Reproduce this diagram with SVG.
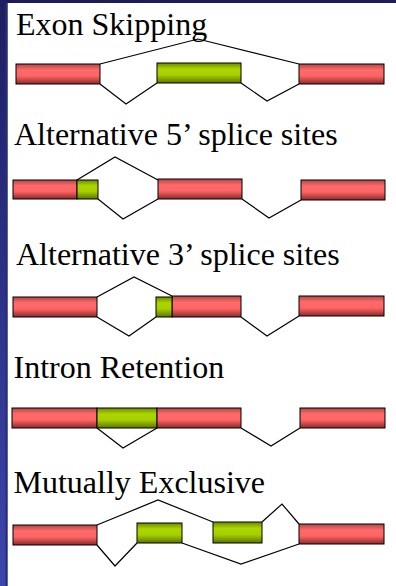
<svg xmlns="http://www.w3.org/2000/svg" width="396" height="586" viewBox="0 0 396 586">
<defs>
<linearGradient id="gRed" x1="0" y1="0" x2="0" y2="1">
<stop offset="0" stop-color="#b04848"/>
<stop offset="0.3" stop-color="#ff6a6a"/>
<stop offset="0.6" stop-color="#ff6464"/>
<stop offset="1" stop-color="#8a2a2a"/>
</linearGradient>
<linearGradient id="gGreen" x1="0" y1="0" x2="0" y2="1">
<stop offset="0" stop-color="#6e8800"/>
<stop offset="0.3" stop-color="#acd600"/>
<stop offset="0.6" stop-color="#a6cf00"/>
<stop offset="1" stop-color="#5e7400"/>
</linearGradient>
<linearGradient id="gSide" x1="0" y1="0" x2="0" y2="1">
<stop offset="0" stop-color="#1e1e62"/>
<stop offset="1" stop-color="#3c46ac"/>
</linearGradient>
<style>
.t{font-family:"Liberation Serif","Times New Roman",serif;font-size:32px;fill:#000}
.r{fill:url(#gRed);stroke:#000;stroke-width:1}
.g{fill:url(#gGreen);stroke:#000;stroke-width:1}
.c{fill:none;stroke:#000;stroke-width:1.2;stroke-linejoin:miter}
</style>
</defs>
<rect x="0" y="0" width="396" height="586" fill="#fff"/>
<rect x="0" y="0" width="396" height="3" fill="#1c1c58"/>
<rect x="0" y="0" width="7.5" height="586" fill="url(#gSide)"/>
<rect x="5.5" y="3" width="2" height="583" fill="#262e78"/>

<g id="connectors">
<polyline class="c" points="100,64 198,39 299,64"/>
<polyline class="c" points="100,84 126,104 157,83"/>
<polyline class="c" points="241,83 267,101 299,84"/>

<polyline class="c" points="77,180 115,157 158,180"/>
<polyline class="c" points="98,199 123,219 158,199"/>
<polyline class="c" points="242,199 269,218 301,200"/>

<polyline class="c" points="97,297 134,277 172,296"/>
<polyline class="c" points="97,317 129,336 156,317"/>
<polyline class="c" points="241,317 267,336 299,316"/>

<polyline class="c" points="97,428 123,448 157,428"/>
<polyline class="c" points="241,428 271,446 300,428"/>

<polyline class="c" points="97,525 158,500 213,522"/>
<polyline class="c" points="97,545 115,566 137,543"/>
<polyline class="c" points="182,543 241,564 299,544"/>
<polyline class="c" points="262,522 282,504 299,524"/>
</g>

<g id="exon-skipping">
<text class="t" x="16" y="35">Exon Skipping</text>
<rect class="r" x="16" y="64" width="84" height="20"/>
<rect class="g" x="157" y="63" width="84" height="20"/>
<rect class="r" x="299" y="64" width="85" height="20"/>
</g>

<g id="alt5">
<text class="t" x="14" y="145">Alternative 5’ splice sites</text>
<rect class="r" x="13" y="180" width="64" height="19"/>
<rect class="g" x="77" y="180" width="21" height="19"/>
<rect class="r" x="158" y="179" width="84" height="20"/>
<rect class="r" x="301" y="180" width="84" height="20"/>
</g>

<g id="alt3">
<text class="t" x="16" y="265">Alternative 3’ splice sites</text>
<rect class="r" x="13" y="297" width="84" height="20"/>
<rect class="r" x="172" y="296" width="69" height="21"/>
<rect class="g" x="156" y="297" width="16" height="20"/>
<rect class="r" x="299" y="296" width="85" height="20"/>
</g>

<g id="intron-retention">
<text class="t" x="13.5" y="378">Intron Retention</text>
<rect class="r" x="12" y="408" width="85" height="20"/>
<rect class="g" x="97" y="408" width="60" height="20"/>
<rect class="r" x="157" y="408" width="84" height="20"/>
<rect class="r" x="300" y="408" width="85" height="20"/>
</g>

<g id="mutually-exclusive">
<text class="t" x="13.5" y="493">Mutually Exclusive</text>
<rect class="r" x="13" y="525" width="84" height="20"/>
<rect class="g" x="137" y="523" width="45" height="20"/>
<rect class="g" x="213" y="522" width="49" height="21"/>
<rect class="r" x="299" y="524" width="85" height="20"/>
</g>
</svg>
